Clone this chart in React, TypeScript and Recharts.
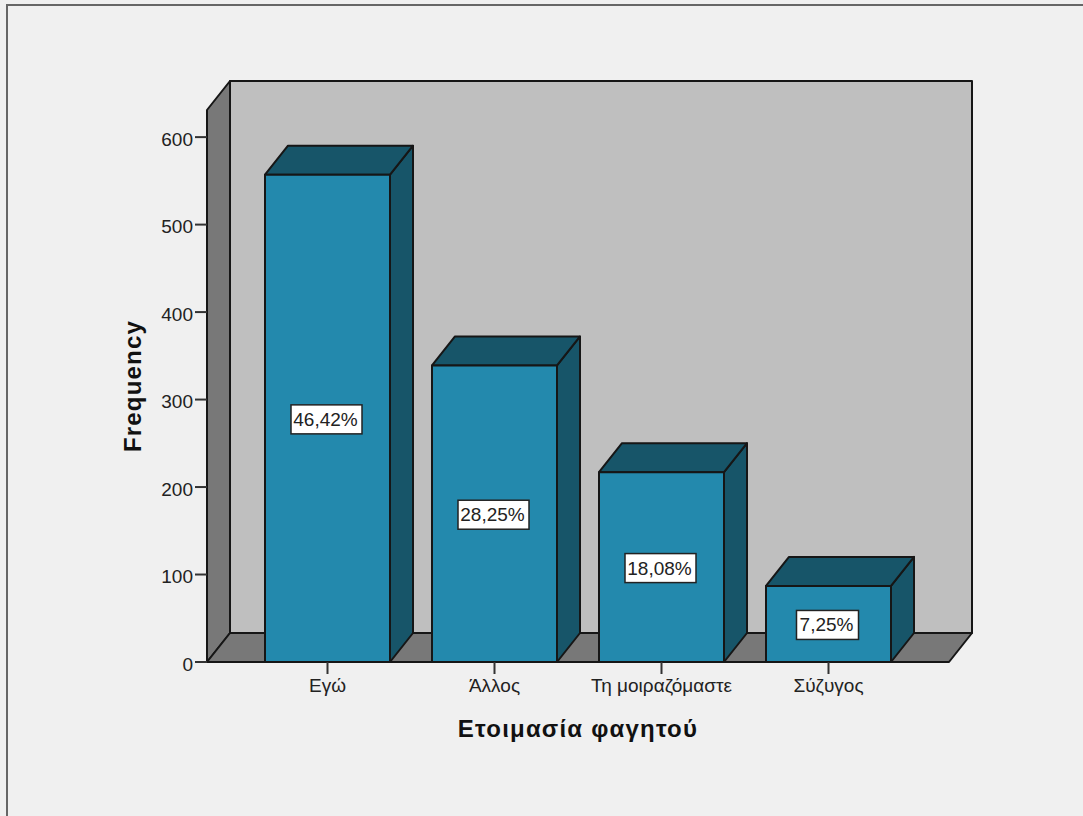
import React from "react";
import { BarChart, Bar, XAxis, YAxis, LabelList, usePlotArea } from "recharts";

const categories = ["Εγώ", "Άλλος", "Τη μοιραζόμαστε", "Σύζυγος"];
const frequencies = [557, 339, 217, 87];
const percentLabels = ["46,42%", "28,25%", "18,08%", "7,25%"];
const yTicks = [0, 100, 200, 300, 400, 500, 600];
const yMax = 631;

const rows = categories.map((name, i) => ({
  name,
  frequency: frequencies[i],
  percent: percentLabels[i],
}));

// Oblique offset of the 3D extrusion
const DEPTH_X = 23;
const DEPTH_Y = 29;
const EDGE = "#161616";
const FONT = "'Liberation Sans', Arial, sans-serif";

function pts(list: number[][]) {
  return list.map((p) => p.join(",")).join(" ");
}

// Back wall, left wall and floor of the 3D box
function Room() {
  const area = usePlotArea();
  if (!area) return null;
  const { x, y, width, height } = area;
  const bottom = y + height;
  const right = x + width;
  return (
    <g stroke={EDGE} strokeWidth={2} strokeLinejoin="round">
      <rect x={x + DEPTH_X} y={y - DEPTH_Y} width={width} height={height} fill="#bfbfbf" />
      <polygon
        fill="#787878"
        points={pts([[x, y], [x + DEPTH_X, y - DEPTH_Y], [x + DEPTH_X, bottom - DEPTH_Y], [x, bottom]])}
      />
      <polygon
        fill="#787878"
        points={pts([[x, bottom], [x + DEPTH_X, bottom - DEPTH_Y], [right + DEPTH_X, bottom - DEPTH_Y], [right, bottom]])}
      />
    </g>
  );
}

// Extruded bar: side and top faces behind the flat front face
function Block(props: any) {
  const { x, y, width, height } = props;
  const r = x + width;
  const b = y + height;
  return (
    <g stroke={EDGE} strokeWidth={2} strokeLinejoin="round">
      <polygon
        fill="#175569"
        points={pts([[r, y], [r + DEPTH_X, y - DEPTH_Y], [r + DEPTH_X, b - DEPTH_Y], [r, b]])}
      />
      <polygon
        fill="#175569"
        points={pts([[x, y], [x + DEPTH_X, y - DEPTH_Y], [r + DEPTH_X, y - DEPTH_Y], [r, y]])}
      />
      <rect x={x} y={y} width={width} height={height} fill="#2389ad" />
    </g>
  );
}

// Percentage tag centred on the front face of a bar
function PercentTag(props: any) {
  const { x, y, width, height, value } = props;
  const w = 9 * String(value).length + 17;
  const h = 29;
  const cx = x + width / 2;
  const cy = y + height / 2 + 1;
  return (
    <g>
      <rect x={cx - w / 2 - 1} y={cy - h / 2} width={w} height={h} fill="#ffffff" stroke="#222222" strokeWidth={1.5} />
      <text x={cx - 2} y={cy + 6.5} textAnchor="middle" fontSize={19} fontFamily={FONT} fill="#222222">
        {value}
      </text>
    </g>
  );
}

export default function App() {
  return (
    <div style={{ position: "absolute", left: 0, top: 0, width: 1083, height: 816, background: "#f0f0f0", overflow: "hidden" }}>
      <div
        style={{
          position: "absolute",
          left: 6,
          top: 4,
          right: -4,
          bottom: -4,
          borderLeft: "2px solid #666666",
          borderTop: "2px solid #666666",
        }}
      />
      <div style={{ position: "absolute", left: 0, top: 0 }}>
        <BarChart
          width={1083}
          height={816}
          data={rows}
          margin={{ top: 110, right: 134, bottom: 94, left: 147 }}
          style={{ overflow: "visible" }}
        >
          <Room />
          <XAxis
            dataKey="name"
            padding={{ left: 37, right: 37 }}
            tickSize={12}
            tickMargin={5}
            height={60}
            interval={0}
            tick={{ fontSize: 19, fontFamily: FONT, fill: "#222222" }}
            axisLine={{ stroke: EDGE, strokeWidth: 2 }}
            tickLine={{ stroke: "#333333", strokeWidth: 2 }}
          />
          <YAxis
            type="number"
            domain={[0, yMax]}
            ticks={yTicks}
            tickSize={12}
            tickMargin={2}
            width={60}
            tick={{ fontSize: 19, fontFamily: FONT, fill: "#222222", dy: 2 }}
            axisLine={{ stroke: EDGE, strokeWidth: 2 }}
            tickLine={{ stroke: "#333333", strokeWidth: 2 }}
          />
          <Bar dataKey="frequency" barSize={125} shape={<Block />} isAnimationActive={false}>
            <LabelList dataKey="percent" content={<PercentTag />} />
          </Bar>
          <text
            x={578}
            y={737}
            textAnchor="middle"
            fontSize={24}
            letterSpacing={1.2}
            fontWeight="bold"
            fontFamily={FONT}
            fill="#111111"
          >
            Ετοιμασία φαγητού
          </text>
          <text
            x={141}
            y={386}
            textAnchor="middle"
            fontSize={24}
            letterSpacing={1.2}
            fontWeight="bold"
            fontFamily={FONT}
            fill="#111111"
            transform="rotate(-90 141 386)"
          >
            Frequency
          </text>
        </BarChart>
      </div>
    </div>
  );
}
